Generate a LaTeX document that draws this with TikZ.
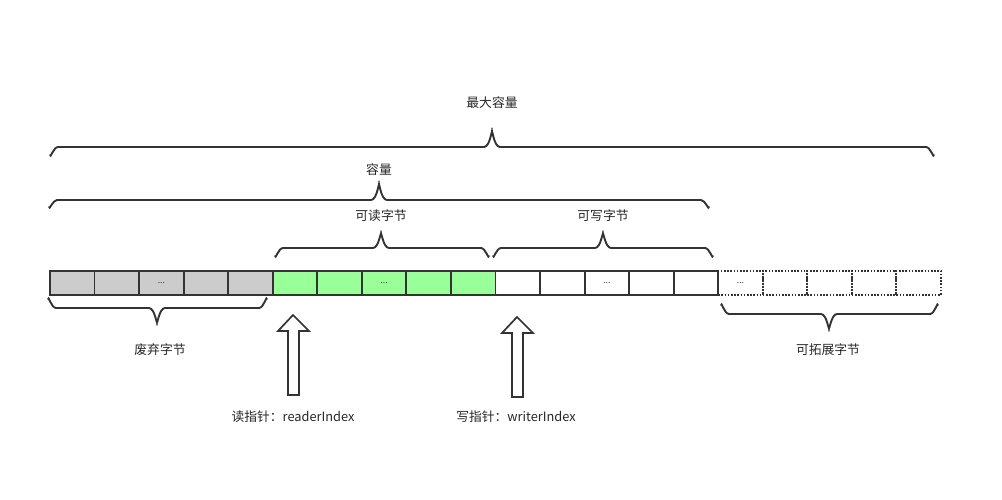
\documentclass[tikz,border=0pt]{standalone}
\usepackage{fontspec}
\setmainfont{Noto Sans CJK SC}
\begin{document}
\begin{tikzpicture}[x=1pt,y=-1pt,
  ink/.style={draw=black!80, line width=1.9pt},
  cell/.style={ink, minimum width=44.55pt, minimum height=24pt, inner sep=0pt, anchor=north west, font=\fontsize{8.5}{9}\selectfont, text=black!80},
  dotcell/.style={cell, dash pattern=on 1.6pt off 1.6pt, line width=1.8pt},
  brace/.style={draw=black!80, line width=1.9pt, line cap=round},
  lbl/.style={font=\fontsize{12.8}{14}\selectfont, text=black!85, inner sep=0pt},
  blockarrow/.style={draw=black!80, line width=1.7pt, fill=white, line join=miter}
]
\useasboundingbox (0,0) rectangle (1002,499);
% cells
\foreach \i in {0,...,4} {
  \node[cell, fill=black!20] (g\i) at ({49+44.55*\i},270) {\ifnum\i=2 ...\fi};
}
\foreach \i in {0,...,4} {
  \node[cell, fill={rgb,255:red,153;green,255;blue,153}] (r\i) at ({49+44.55*(\i+5)},270) {\ifnum\i=2 ...\fi};
}
\foreach \i in {0,...,4} {
  \node[cell, fill=white] (w\i) at ({49+44.55*(\i+10)},270) {\ifnum\i=2 ...\fi};
}
\foreach \i in {0,...,4} {
  \node[dotcell] (e\i) at ({49+44.55*(\i+15)},270) {\ifnum\i=0 ...\fi};
}
% bottom braces
\draw[brace] (48,299) to[out=90,in=180] (56,308) -- (149,308) to[out=0,in=-90] (157,321) to[out=-90,in=180] (165,308) -- (259,308) to[out=0,in=90] (267,299);
\draw[brace] (721,305) to[out=90,in=180] (729,314) -- (821,314) to[out=0,in=-90] (829,327) to[out=-90,in=180] (837,314) -- (930,314) to[out=0,in=90] (938,305);
% top braces
\draw[brace] (275,256) to[out=-90,in=180] (283,248) -- (373,248) to[out=0,in=90] (381,235) to[out=90,in=180] (389,248) -- (481,248) to[out=0,in=-90] (489,256);
\draw[brace] (493,256) to[out=-90,in=180] (501,248) -- (595,248) to[out=0,in=90] (603,235) to[out=90,in=180] (611,248) -- (705,248) to[out=0,in=-90] (713,256);
\draw[brace] (49,207) to[out=-90,in=180] (57,200) -- (371,200) to[out=0,in=90] (379,186) to[out=90,in=180] (387,200) -- (701,200) to[out=0,in=-90] (709,207);
\draw[brace] (50,155) to[out=-90,in=180] (58,147) -- (484,147) to[out=0,in=90] (492,133) to[out=90,in=180] (500,147) -- (926,147) to[out=0,in=-90] (934,155);
% labels
\node[lbl] (lmax) at (492,103) {最大容量};
\node[lbl] (lcap) at (379,170) {容量};
\node[lbl] (lread) at (381,216) {可读字节};
\node[lbl] (lwrite) at (603,216) {可写字节};
\node[lbl] (ldisc) at (160,350) {废弃字节};
\node[lbl] (lext) at (828,350) {可拓展字节};
\node[lbl] (lri) at (293,417) {读指针：readerIndex};
\node[lbl] (lwi) at (516,417) {写指针：writerIndex};
% block arrows
\draw[blockarrow] (293,315) -- (309,331) -- (299,331) -- (299,395) -- (288,395) -- (288,331) -- (278,331) -- cycle;
\draw[blockarrow] (517,317) -- (533,333) -- (523,333) -- (523,397) -- (512,397) -- (512,333) -- (502,333) -- cycle;
\end{tikzpicture}
\end{document}
